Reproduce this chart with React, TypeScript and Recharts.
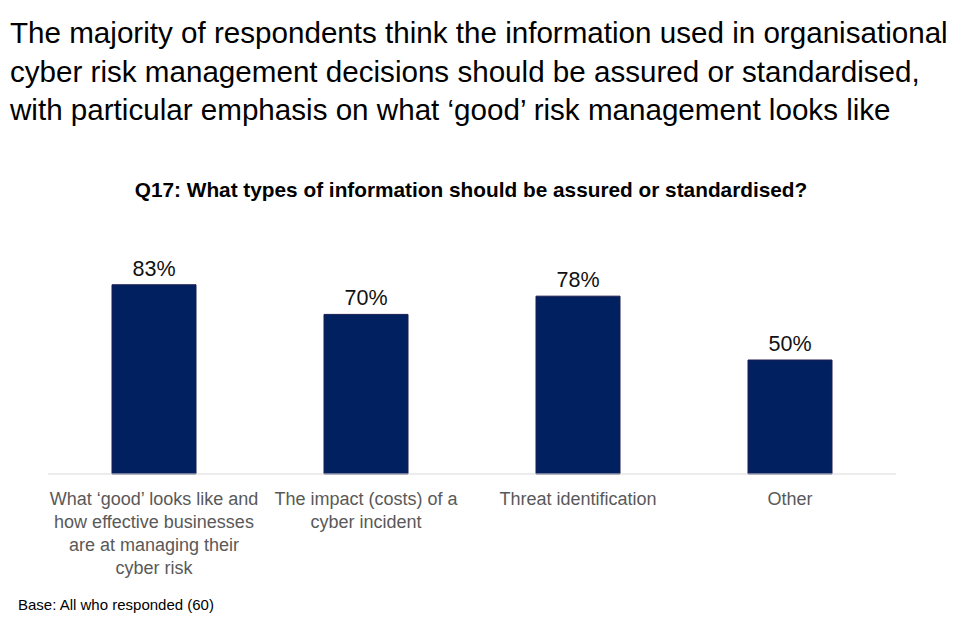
import { BarChart, Bar, XAxis, YAxis, LabelList } from "recharts";

const categories = ["good", "impact", "threat", "other"];
const tickLines = [
  ["What \u2018good\u2019 looks like and", "how effective businesses", "are at managing their", "cyber risk"],
  ["The impact (costs) of a", "cyber incident"],
  ["Threat identification"],
  ["Other"],
];
const values = [83, 70, 78, 50];

const titleLines = [
  "The majority of respondents think the information used in organisational",
  "cyber risk management decisions should be assured or standardised,",
  "with particular emphasis on what \u2018good\u2019 risk management looks like",
];

const data = categories.map((c, i) => ({ key: c, idx: i, value: values[i] }));

const FONT = "'Liberation Sans', Arial, sans-serif";

function CategoryTick(props: any) {
  const { x, y, payload } = props;
  const lines = tickLines[payload.index] || [];
  return (
    <text x={x} y={y} textAnchor="middle" fill="#595959" fontSize={18} fontFamily={FONT}>
      {lines.map((l, i) => (
        <tspan key={i} x={x} dy={23}>
          {l}
        </tspan>
      ))}
    </text>
  );
}

export default function App() {
  return (
    <div style={{ position: "relative", margin: -8, width: 960, height: 640, fontFamily: FONT, overflow: "hidden" }}>
      <div style={{ position: "absolute", left: 10, top: 14, fontSize: 29.6, lineHeight: "38.5px", color: "#000", whiteSpace: "nowrap" }}>
        {titleLines.map((t, i) => (
          <div key={i}>{t}</div>
        ))}
      </div>
      <div style={{ position: "absolute", left: 0, width: 942, top: 178, textAlign: "center", fontSize: 20.8, fontWeight: "bold", color: "#000", whiteSpace: "nowrap" }}>
        Q17: What types of information should be assured or standardised?
      </div>
      <div style={{ position: "absolute", left: 0, top: 0 }}>
        <BarChart
          width={960}
          height={640}
          data={data}
          margin={{ top: 246, right: 64, left: 48, bottom: 136 }}
        >
          <XAxis
            dataKey="key"
            axisLine={{ stroke: "#d9d9d9" }}
            tickLine={false}
            interval={0}
            tick={<CategoryTick />}
          />
          <YAxis hide domain={[0, 100]} />
          <Bar dataKey="value" fill="#002060" stroke="#1c1c50" strokeWidth={1} barSize={84} isAnimationActive={false}>
            <LabelList
              dataKey="value"
              position="top"
              offset={9}
              formatter={(v: any) => v + "%"}
              style={{ fontSize: 21.5, fill: "#111", fontFamily: FONT }}
            />
          </Bar>
        </BarChart>
      </div>
      <div style={{ position: "absolute", left: 18, top: 596, fontSize: 15, color: "#000" }}>
        Base: All who responded (60)
      </div>
    </div>
  );
}
